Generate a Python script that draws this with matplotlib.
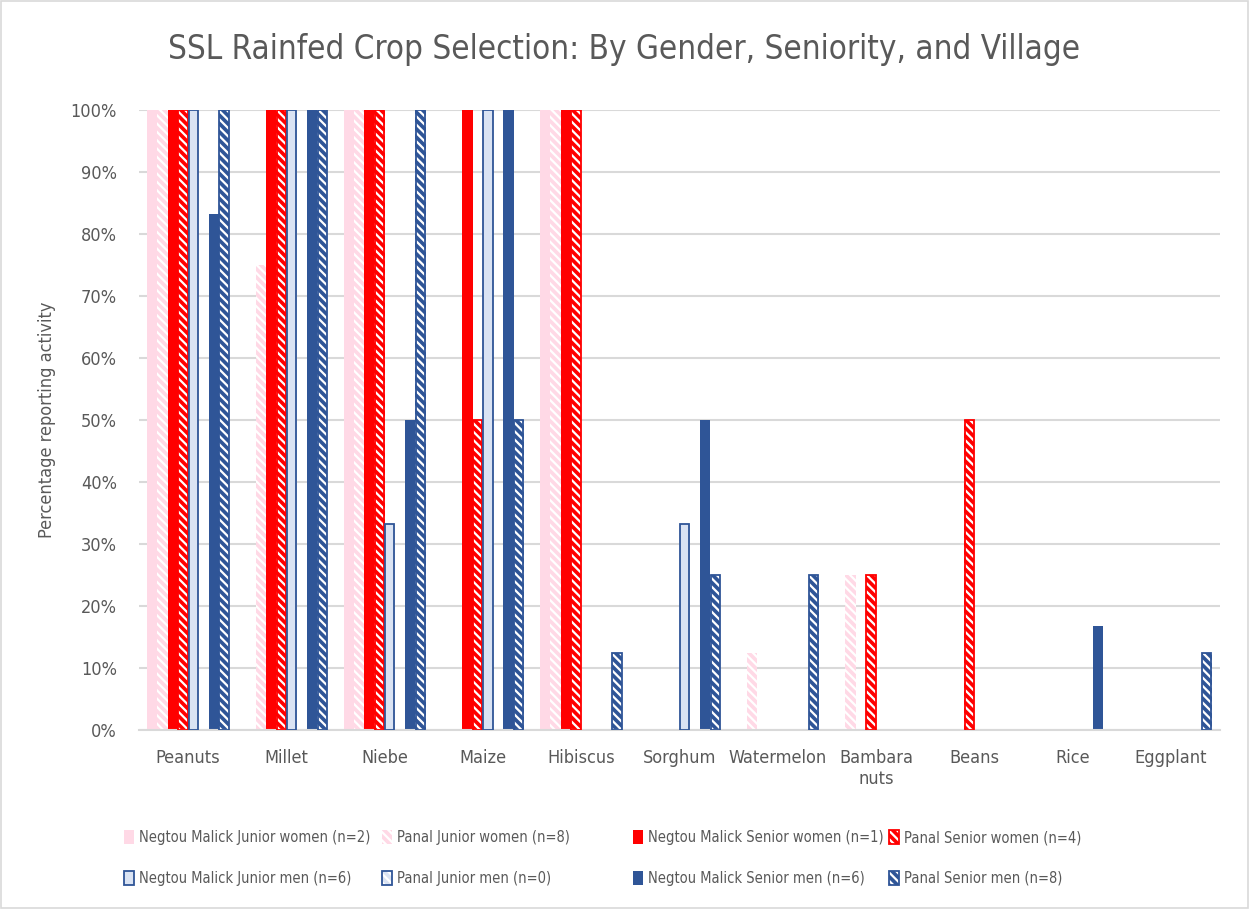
import numpy as np
import matplotlib
matplotlib.use('Agg')
import matplotlib.pyplot as plt
from matplotlib import font_manager
from matplotlib.legend_handler import HandlerTuple
from matplotlib.ticker import PercentFormatter
from matplotlib.patches import Rectangle

# data (percent of respondents)
crops = ['Peanuts', 'Millet', 'Niebe', 'Maize', 'Hibiscus', 'Sorghum',
         'Watermelon', 'Bambara\nnuts', 'Beans', 'Rice', 'Eggplant']

nm_junior_women = [100, 0, 100, 0, 100, 0, 0, 0, 0, 0, 0]
panal_junior_women = [100, 75, 100, 0, 100, 0, 12.5, 25, 0, 0, 0]
nm_senior_women = [100, 100, 100, 100, 100, 0, 0, 0, 0, 0, 0]
panal_senior_women = [100, 100, 100, 50, 100, 0, 0, 25, 50, 0, 0]
nm_junior_men = [100, 100, 33.3, 100, 0, 33.3, 0, 0, 0, 0, 0]
panal_junior_men = [0, 0, 0, 0, 0, 0, 0, 0, 0, 0, 0]
nm_senior_men = [83.3, 100, 50, 100, 0, 50, 0, 0, 0, 16.7, 0]
panal_senior_men = [100, 100, 100, 50, 12.5, 25, 25, 0, 0, 0, 12.5]

series_labels = ['Negtou Malick Junior women (n=2)', 'Panal Junior women (n=8)',
                 'Negtou Malick Senior women (n=1)', 'Panal Senior women (n=4)',
                 'Negtou Malick Junior men (n=6)', 'Panal Junior men (n=0)',
                 'Negtou Malick Senior men (n=6)', 'Panal Senior men (n=8)']

# pick a narrow font if there is one
names = {f.name for f in font_manager.fontManager.ttflist}
if 'Liberation Sans Narrow' in names:
    base_font = 'Liberation Sans Narrow'
else:
    base_font = 'DejaVu Sans'
plt.rcParams['font.family'] = [base_font, 'DejaVu Sans']
plt.rcParams['font.stretch'] = 'condensed'
plt.rcParams['hatch.color'] = 'white'
plt.rcParams['hatch.linewidth'] = 1.6

text_col = '#595959'
grid_col = '#D9D9D9'
pink = '#FFD9E6'
red = '#FF0000'
light_blue = '#DAE3F3'
dark_blue = '#2F5597'

# (values, face, hatched, outline colour)
series = [
    (nm_junior_women, pink, False, None),
    (panal_junior_women, pink, True, None),
    (nm_senior_women, red, False, None),
    (panal_senior_women, red, True, red),
    (nm_junior_men, light_blue, False, dark_blue),
    (panal_junior_men, light_blue, True, dark_blue),
    (nm_senior_men, dark_blue, False, None),
    (panal_senior_men, dark_blue, True, dark_blue),
]

fig = plt.figure(figsize=(12.49, 9.09), dpi=100)
ax = fig.add_axes([139 / 1249, 1 - 730 / 909, 1081 / 1249, 620 / 909])

x = np.arange(len(crops))
n = len(series)
w = 0.834 / n
handles = []
for i, (vals, face, hatched, outline) in enumerate(series):
    pos = x - 0.417 + w * (i + 0.5)
    vals = np.array(vals, dtype=float)
    b = ax.bar(pos, vals, w, color=face, linewidth=0,
               hatch='\\\\\\\\' if hatched else None, zorder=2)
    h = b
    if outline is not None:
        keep = vals > 0
        o = ax.bar(pos[keep], vals[keep], w * 0.9, fill=False, edgecolor=outline,
                   linewidth=1.3, zorder=3)
        # proxy outline for the legend (works even when the series is all zero)
        proxy = Rectangle((0, 0), 1, 1, fill=False, edgecolor=outline, linewidth=1.3)
        h = (b, proxy)
    handles.append(h)

ax.set_xlim(-0.5, len(crops) - 0.5)
ax.set_ylim(0, 100)
ax.set_yticks(np.arange(0, 101, 10))
ax.yaxis.set_major_formatter(PercentFormatter(100, decimals=0))
ax.set_xticks(x)
ax.set_xticklabels(crops)
ax.tick_params(axis='both', length=0, colors=text_col, labelsize=13)
ax.tick_params(axis='y', pad=16)
ax.tick_params(axis='x', pad=14)
ax.grid(axis='y', color=grid_col, linewidth=1.5, zorder=0)
ax.set_axisbelow(True)
for s in ['top', 'right', 'left']:
    ax.spines[s].set_visible(False)
ax.spines['bottom'].set_color(grid_col)
ax.spines['bottom'].set_linewidth(1.5)

ax.set_ylabel('Percentage reporting activity', color=text_col, fontsize=13)
ax.yaxis.set_label_coords(-0.077, 0.5)

fig.text(0.5, 0.945, 'SSL Rainfed Crop Selection: By Gender, Seniority, and Village',
         ha='center', va='center', fontsize=23.8, color=text_col)

# legend: four columns, two rows, placed like the original
col_x = [124, 382, 633, 889]
for c in range(4):
    idx = [c, c + 4]
    leg = fig.legend([handles[i] for i in idx], [series_labels[i] for i in idx],
                     loc='center left', bbox_to_anchor=(col_x[c] / 1249, 1 - 858 / 909),
                     frameon=False, fontsize=10.5, labelcolor=text_col,
                     handlelength=0.7, handleheight=1.1, handletextpad=0.35,
                     labelspacing=1.75, borderaxespad=0, borderpad=0,
                     handler_map={tuple: HandlerTuple(ndivide=1, pad=0)})

fig.patches.append(Rectangle((0.0008, 0.0011), 0.9984, 0.9978, transform=fig.transFigure,
                             fill=False, edgecolor=grid_col, linewidth=1.2))

fig.savefig('out.png', dpi=100)
